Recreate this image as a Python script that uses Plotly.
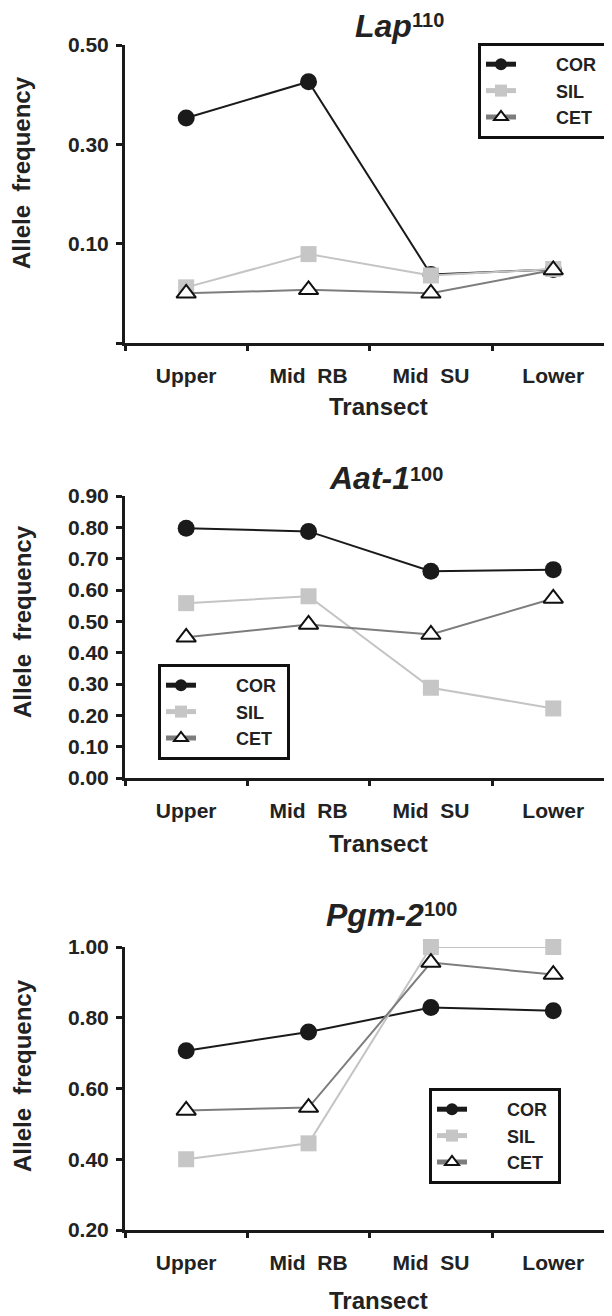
import plotly.graph_objects as go

# page has an 8px body margin; the figure is sized to fit the window
OFF = 8
W, H = 612 - OFF, 1316 - OFF
NB = "\u00a0"

categories = ["Upper", "Mid" + NB * 2 + "RB", "Mid" + NB * 2 + "SU", "Lower"]
series_names = ["COR", "SIL", "CET"]

lap_cor = [0.353, 0.426, 0.038, 0.048]
lap_sil = [0.012, 0.079, 0.036, 0.049]
lap_cet = [0.000, 0.007, 0.000, 0.047]

aat_cor = [0.797, 0.787, 0.660, 0.665]
aat_sil = [0.558, 0.580, 0.288, 0.222]
aat_cet = [0.449, 0.490, 0.458, 0.573]

pgm_cor = [0.707, 0.760, 0.829, 0.820]
pgm_sil = [0.400, 0.445, 1.000, 1.000]
pgm_cet = [0.538, 0.546, 0.956, 0.922]

lap_ticks = [-0.1, 0.1, 0.3, 0.5]
lap_ticktext = ["", "0.10", "0.30", "0.50"]
aat_ticks = [0.0, 0.1, 0.2, 0.3, 0.4, 0.5, 0.6, 0.7, 0.8, 0.9]
aat_ticktext = ["0.00", "0.10", "0.20", "0.30", "0.40", "0.50", "0.60", "0.70", "0.80", "0.90"]
pgm_ticks = [0.2, 0.4, 0.6, 0.8, 1.0]
pgm_ticktext = ["0.20", "0.40", "0.60", "0.80", "1.00"]

locus_names = ["Lap", "Aat-1", "Pgm-2"]
allele_names = ["110", "100", "100"]

FONT = "Liberation Sans"
AX = "#1a1a1a"
TXT = "#222222"


def px_y(y):
    return 1 - (y - OFF) / H


def px_x(x):
    return (x - OFF) / W


panels = [
    dict(data=[lap_cor, lap_sil, lap_cet], ticks=lap_ticks, ticktext=lap_ticktext,
         yr=[-0.1, 0.5], top=45, bottom=343, legend=(478, 43),
         title=(412, 26, 20), ytitle=173, xtitle=406),
    dict(data=[aat_cor, aat_sil, aat_cet], ticks=aat_ticks, ticktext=aat_ticktext,
         yr=[0.0, 0.9], top=496, bottom=778, legend=(158, 664),
         title=(410, 478, 473.5), ytitle=622, xtitle=843),
    dict(data=[pgm_cor, pgm_sil, pgm_cet], ticks=pgm_ticks, ticktext=pgm_ticktext,
         yr=[0.2, 1.0], top=947, bottom=1230, legend=(429, 1088),
         title=(424, 915, 908.5), ytitle=1076, xtitle=1300),
]

styles = [
    dict(line=dict(color="#1a1a1a", width=2),
         marker=dict(symbol="circle", size=17, color="#1a1a1a", line=dict(width=0))),
    dict(line=dict(color="#c4c4c4", width=2),
         marker=dict(symbol="square", size=16, color="#c6c6c6", line=dict(width=0))),
    dict(line=dict(color="#7d7d7d", width=2),
         marker=dict(symbol="triangle-up", size=17, color="white",
                     line=dict(color="#111111", width=2))),
]

fig = go.Figure()
annotations = []
layout = dict(width=W, height=H, margin=dict(l=0, r=0, t=0, b=0, autoexpand=False),
              paper_bgcolor="white", plot_bgcolor="white", showlegend=True)

for i, p in enumerate(panels):
    k = "" if i == 0 else str(i + 1)
    legname = "legend" + k
    for j, (vals, name) in enumerate(zip(p["data"], series_names)):
        fig.add_trace(go.Scatter(
            x=categories, y=vals, mode="lines+markers",
            name="<b>" + NB * 7 + name + NB + "</b>",
            line=styles[j]["line"], marker=styles[j]["marker"],
            xaxis="x" + k, yaxis="y" + k, legend=legname,
            cliponaxis=False,
        ))
    layout["xaxis" + k] = dict(
        domain=[px_x(125), 1.0], anchor="y" + k, type="category",
        range=[-0.5, 3.48], showline=True, linecolor=AX, linewidth=3,
        ticks="outside", ticklen=5, tickwidth=3, tickcolor=AX, tickson="boundaries",
        showgrid=False, zeroline=False, ticklabelstandoff=12,
        tickfont=dict(family=FONT, size=21, color=TXT, weight="bold"),
    )
    layout["yaxis" + k] = dict(
        domain=[px_y(p["bottom"]), px_y(p["top"])], anchor="x" + k,
        range=p["yr"], tickvals=p["ticks"], ticktext=p["ticktext"],
        showline=True, linecolor=AX, linewidth=3,
        ticks="outside", ticklen=6, tickwidth=3, tickcolor=AX,
        showgrid=False, zeroline=False, ticklabelstandoff=3,
        tickfont=dict(family=FONT, size=21, color=TXT, weight="bold"),
    )
    lx, ly = p["legend"]
    layout[legname] = dict(
        x=px_x(lx), y=px_y(ly), xanchor="left", yanchor="top",
        bordercolor="#111111", borderwidth=3, bgcolor="white",
        font=dict(family=FONT, size=18, color=TXT),
        itemsizing="constant", traceorder="normal", tracegroupgap=0,
    )
    tx, ty, sy = p["title"]
    annotations.append(dict(text="<b><i>" + locus_names[i] + "</i></b>",
                            x=px_x(tx), y=px_y(ty),
                            xref="paper", yref="paper", xanchor="right", yanchor="middle",
                            xshift=2, showarrow=False,
                            font=dict(family=FONT, size=32, color=TXT)))
    annotations.append(dict(text="<b>" + allele_names[i] + "</b>",
                            x=px_x(tx), y=px_y(sy),
                            xref="paper", yref="paper", xanchor="left", yanchor="middle",
                            xshift=-2, showarrow=False,
                            font=dict(family=FONT, size=20, color=TXT)))
    annotations.append(dict(text="<b>Allele" + NB * 2 + "frequency</b>", x=px_x(22),
                            y=px_y(p["ytitle"]), xref="paper", yref="paper",
                            xanchor="center", yanchor="middle", textangle=-90,
                            showarrow=False, font=dict(family=FONT, size=24, color=TXT)))
    annotations.append(dict(text="<b>Transect</b>", x=px_x(378), y=px_y(p["xtitle"]),
                            xref="paper", yref="paper", xanchor="center", yanchor="middle",
                            showarrow=False, font=dict(family=FONT, size=24, color=TXT)))

layout["annotations"] = annotations
fig.update_layout(**layout)
fig.write_html("out.html")
